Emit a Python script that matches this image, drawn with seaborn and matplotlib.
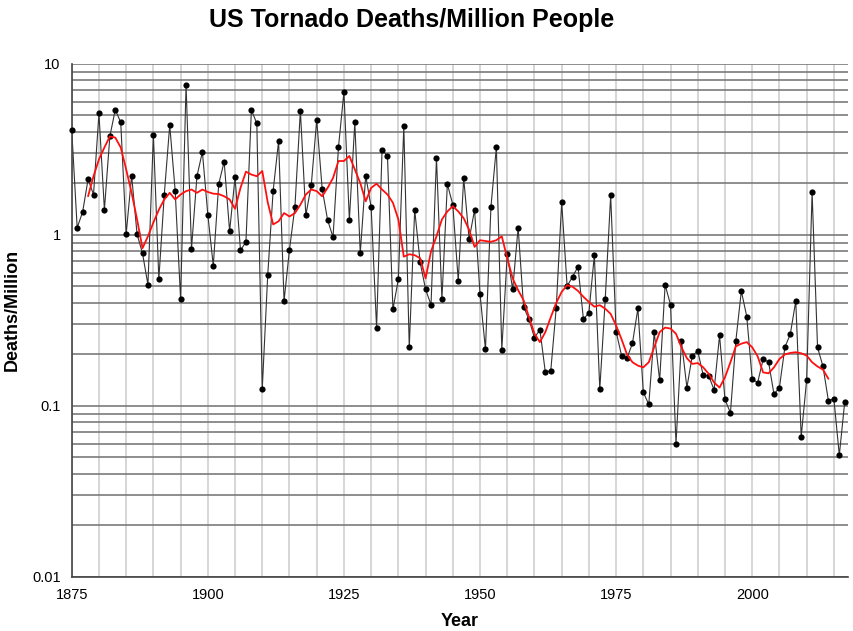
import numpy as np
import pandas as pd
import matplotlib
matplotlib.use("Agg")
import matplotlib.pyplot as plt
import matplotlib.ticker as mticker
import seaborn as sns

# yearly deaths per million people, 1875-2017
years = list(range(1875, 2018))
deaths = [
    4.11, 1.10, 1.36, 2.11, 1.72,                                   # 1875-1879
    5.13, 1.40, 3.76, 5.39, 4.54, 1.01, 2.22, 1.01, 0.78, 0.51,     # 1880s
    3.84, 0.55, 1.72, 4.38, 1.81, 0.42, 7.55, 0.83, 2.20, 3.05,     # 1890s
    1.31, 0.66, 1.98, 2.68, 1.05, 2.17, 0.81, 0.91, 5.36, 4.48,     # 1900s
    0.126, 0.58, 1.81, 3.54, 0.41, 0.82, 1.46, 5.31, 1.30, 1.95,    # 1910s
    4.69, 1.86, 1.22, 0.97, 3.26, 6.84, 1.22, 4.54, 0.78, 2.22,     # 1920s
    1.45, 0.285, 3.13, 2.89, 0.367, 0.55, 4.33, 0.22, 1.40, 0.69,   # 1930s
    0.48, 0.39, 2.81, 0.42, 1.98, 1.50, 0.54, 2.15, 0.94, 1.40,     # 1940s
    0.45, 0.214, 1.45, 3.25, 0.213, 0.77, 0.48, 1.10, 0.38, 0.32,   # 1950s
    0.25, 0.279, 0.157, 0.161, 0.374, 1.55, 0.50, 0.57, 0.65, 0.32, # 1960s
    0.351, 0.76, 0.125, 0.42, 1.70, 0.272, 0.197, 0.19, 0.232, 0.371,  # 1970s
    0.12, 0.102, 0.269, 0.141, 0.51, 0.39, 0.060, 0.239, 0.128, 0.197, # 1980s
    0.209, 0.151, 0.150, 0.124, 0.258, 0.109, 0.091, 0.241, 0.469, 0.333,  # 1990s
    0.143, 0.137, 0.187, 0.181, 0.117, 0.128, 0.22, 0.263, 0.41, 0.066,  # 2000s
    0.142, 1.77, 0.22, 0.170, 0.107, 0.110, 0.0515, 0.106,          # 2010-2017
]

# red smoothed trend, 1878-2014
trend_years = list(range(1878, 2015))
trend = [
    1.68, 2.20,                                                     # 1878-1879
    2.76, 3.24, 3.76, 3.70, 3.24, 2.41, 1.76, 1.23, 0.835, 0.98,    # 1880s
    1.18, 1.40, 1.61, 1.76, 1.61, 1.72, 1.80, 1.84, 1.76, 1.84,     # 1890s
    1.78, 1.74, 1.73, 1.68, 1.61, 1.42, 1.88, 2.34, 2.25, 2.20,     # 1900s
    2.36, 1.55, 1.15, 1.20, 1.34, 1.28, 1.34, 1.50, 1.72, 1.84,     # 1910s
    1.80, 1.68, 1.88, 2.15, 2.70, 2.70, 2.89, 2.41, 2.01, 1.57,     # 1920s
    1.88, 1.99, 1.84, 1.72, 1.54, 1.23, 0.745, 0.77, 0.76, 0.73,    # 1930s
    0.556, 0.80, 0.98, 1.23, 1.37, 1.47, 1.37, 1.25, 1.07, 0.85,    # 1940s
    0.93, 0.92, 0.91, 0.93, 0.98, 0.73, 0.556, 0.475, 0.415, 0.33,  # 1950s
    0.264, 0.236, 0.27, 0.33, 0.40, 0.464, 0.508, 0.497, 0.47, 0.434,  # 1960s
    0.405, 0.38, 0.388, 0.37, 0.345, 0.295, 0.245, 0.20, 0.18, 0.172,  # 1970s
    0.168, 0.18, 0.22, 0.27, 0.287, 0.283, 0.264, 0.22, 0.19, 0.176,   # 1980s
    0.178, 0.168, 0.154, 0.137, 0.128, 0.147, 0.18, 0.223, 0.231, 0.236,  # 1990s
    0.22, 0.195, 0.157, 0.155, 0.168, 0.188, 0.20, 0.204, 0.206, 0.203,  # 2000s
    0.197, 0.18, 0.17, 0.163, 0.144,                                # 2010-2014
]

x_major = [1875, 1900, 1925, 1950, 1975, 2000]
y_major = [0.01, 0.1, 1, 10]
y_labels = ["0.01", "0.1", "1", "10"]

df = pd.DataFrame({"Year": years, "Deaths": deaths})
df_trend = pd.DataFrame({"Year": trend_years, "Trend": trend})

sns.set_style("white")
plt.rcParams["font.family"] = ["Liberation Sans", "DejaVu Sans"]

fig = plt.figure(figsize=(8.54, 6.31), dpi=100)
ax = fig.add_axes([0.084, 0.0856, 0.909, 0.8134])

ax.set_yscale("log")
ax.set_ylim(0.01, 10)
ax.set_xlim(1875, 2017.6)

# grid: dark horizontal at every log step, light vertical every 5 years
ax.yaxis.set_major_locator(mticker.FixedLocator(y_major))
ax.yaxis.set_major_formatter(mticker.FixedFormatter(y_labels))
ax.yaxis.set_minor_locator(mticker.LogLocator(base=10, subs=np.arange(2, 10)))
ax.yaxis.set_minor_formatter(mticker.NullFormatter())
ax.xaxis.set_major_locator(mticker.FixedLocator(x_major))
ax.xaxis.set_minor_locator(mticker.MultipleLocator(5))
ax.grid(True, axis="y", which="both", color="#7a7a7a", lw=1.2, zorder=0)
ax.grid(True, axis="x", which="both", color="#d0d0d0", lw=1.2, zorder=0)
ax.set_axisbelow(True)

sns.lineplot(data=df, x="Year", y="Deaths", ax=ax, color="#333333", lw=0.8,
             estimator=None, zorder=2)
sns.scatterplot(data=df, x="Year", y="Deaths", ax=ax, color="black", s=20,
                edgecolor="black", linewidth=0, zorder=3, clip_on=False)
sns.lineplot(data=df_trend, x="Year", y="Trend", ax=ax, color="#ff1010", lw=1.3,
             estimator=None, zorder=4)

for side in ["top", "right"]:
    ax.spines[side].set_visible(False)
for side in ["left", "bottom"]:
    ax.spines[side].set_color("#444444")
    ax.spines[side].set_linewidth(1.2)

ax.tick_params(axis="both", which="major", direction="out", length=5,
               width=1, color="#444444", labelsize=10.5, labelcolor="black", pad=3)
ax.tick_params(axis="both", which="minor", length=0)

ax.set_xlabel("Year", fontsize=13, fontweight="bold", labelpad=8, color="black")
ax.set_ylabel("Deaths/Million", fontsize=13, fontweight="bold", color="black")
ax.yaxis.set_label_coords(-0.066, 0.52)

fig.text(0.482, 0.969, "US Tornado Deaths/Million People", ha="center", va="center",
         fontsize=18, fontweight="bold", color="black")

fig.savefig("out.png", dpi=100)
